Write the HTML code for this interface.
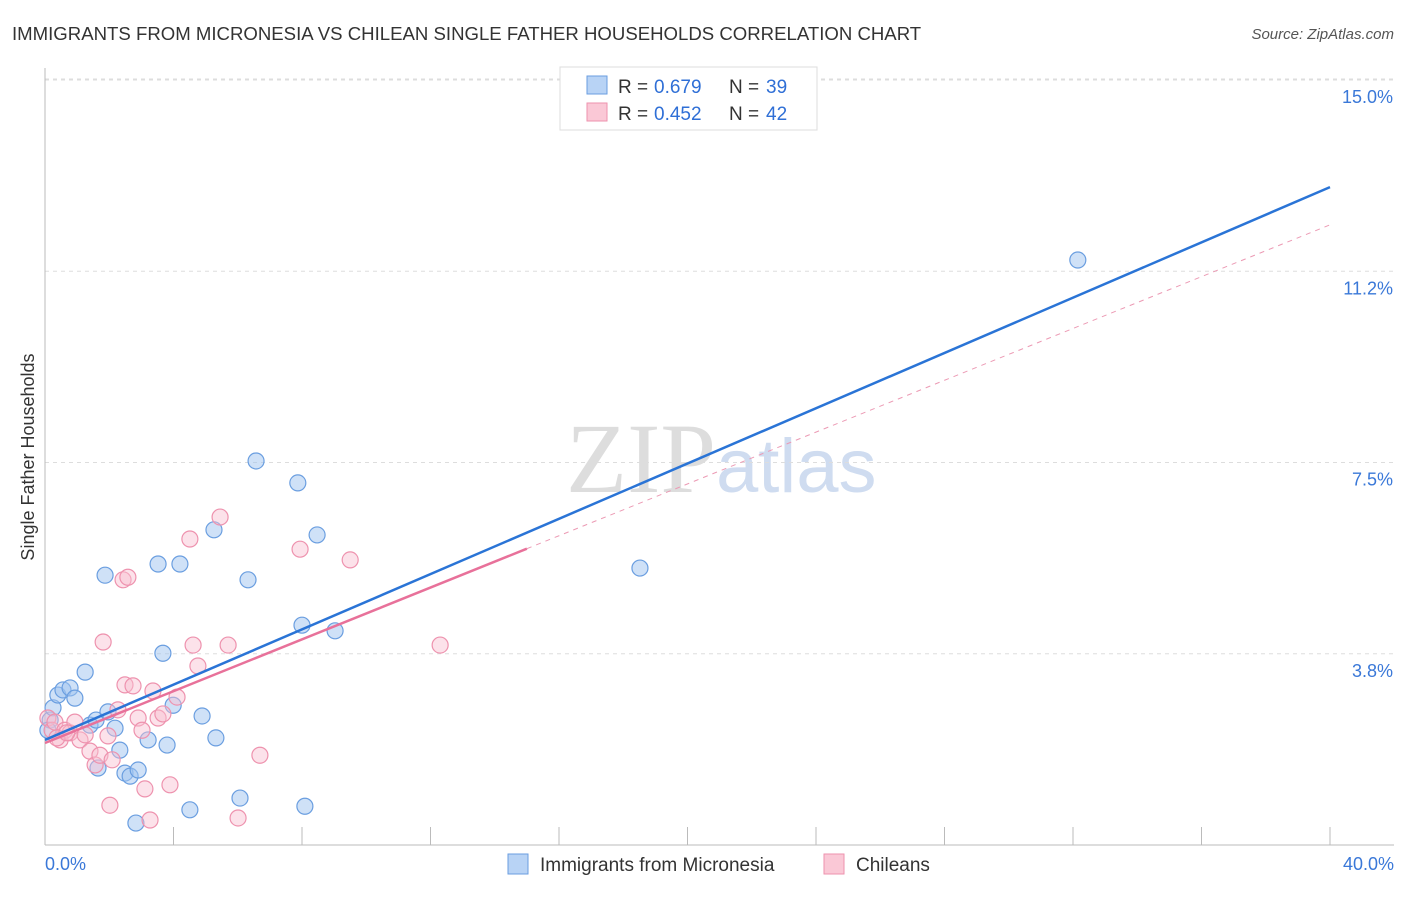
<!DOCTYPE html>
<html><head><meta charset="utf-8"><style>
body{margin:0;background:#fff;font-family:"Liberation Sans",sans-serif}
</style></head><body>
<svg id="c" width="1406" height="892" xmlns="http://www.w3.org/2000/svg">
<text x="12" y="40" font-size="18.6" fill="#333">IMMIGRANTS FROM MICRONESIA VS CHILEAN SINGLE FATHER HOUSEHOLDS CORRELATION CHART</text>
<text x="1394" y="39" font-size="15" fill="#555" font-style="italic" text-anchor="end">Source: ZipAtlas.com</text>
<text x="34" y="457" font-size="18" fill="#333" text-anchor="middle" transform="rotate(-90 34 457)">Single Father Households</text>
<text x="716" y="492" font-size="100" fill="#ddd" text-anchor="end" font-family="Liberation Serif">ZIP</text>
<text x="716" y="492" font-size="76" fill="#cfdcf0">atlas</text>
<g id="grid"></g><g id="pts"></g><g id="lines"></g>
<g>
<rect x="560" y="67" width="257" height="63" fill="#fff" stroke="#ddd"/>
<rect x="587" y="76" width="20" height="18" fill="#b8d3f5" stroke="#6a9ee0"/>
<rect x="587" y="103" width="20" height="18" fill="#fac8d6" stroke="#ee92ae"/>
<text x="618" y="93" font-size="19" fill="#333">R =</text>
<text x="654" y="93" font-size="19" fill="#2f6fd6">0.679</text>
<text x="729" y="93" font-size="19" fill="#333">N =</text>
<text x="766" y="93" font-size="19" fill="#2f6fd6">39</text>
<text x="618" y="120" font-size="19" fill="#333">R =</text>
<text x="654" y="120" font-size="19" fill="#2f6fd6">0.452</text>
<text x="729" y="120" font-size="19" fill="#333">N =</text>
<text x="766" y="120" font-size="19" fill="#2f6fd6">42</text>
</g>
<g>
<rect x="508" y="854" width="20" height="20" fill="#b8d3f5" stroke="#6a9ee0"/>
<text x="540" y="871" font-size="19" fill="#333">Immigrants from Micronesia</text>
<rect x="824" y="854" width="20" height="20" fill="#fac8d6" stroke="#ee92ae"/>
<text x="856" y="871" font-size="19" fill="#333">Chileans</text>
</g>
</svg>
<script>
const yTicks=[3.75,7.5,11.25,15];
const yTickLabels=["3.8%","7.5%","11.2%","15.0%"];
const xTicks=[0,4,8,12,16,20,24,28,32,36,40];
const blueX=[0.16,0.25,0.40,0.56,0.78,0.93,1.25,1.40,1.59,1.65,1.87,1.96,2.18,2.33,2.49,2.65,2.90,2.83,3.21,3.52,3.67,3.80,3.99,4.20,4.51,4.89,5.26,5.32,6.07,6.32,6.57,7.87,8.00,8.09,8.47,9.03,18.52,32.15,0.09];
const blueY=[2.45,2.69,2.94,3.04,3.08,2.88,3.39,2.35,2.45,1.51,5.29,2.61,2.29,1.86,1.41,1.35,1.47,0.43,2.06,5.51,3.76,1.96,2.74,5.51,0.69,2.53,6.18,2.10,0.92,5.20,7.53,7.10,4.31,0.76,6.08,4.20,5.43,11.47,2.25];
const pinkX=[0.09,0.22,0.31,0.47,0.62,0.78,0.93,1.09,1.25,1.40,1.56,1.71,1.81,1.96,2.09,2.27,2.43,2.49,2.58,2.74,2.90,3.02,3.11,3.27,3.36,3.52,3.67,3.89,4.11,4.51,4.61,4.76,2.02,5.45,5.70,6.01,6.69,7.94,9.50,12.30,0.37,0.68];
const pinkY=[2.49,2.25,2.41,2.06,2.25,2.20,2.41,2.06,2.16,1.84,1.57,1.76,3.98,2.14,1.67,2.65,5.20,3.14,5.25,3.12,2.49,2.25,1.10,0.49,3.02,2.49,2.57,1.18,2.90,6.00,3.92,3.51,0.78,6.43,3.92,0.53,1.76,5.80,5.59,3.92,2.10,2.20];
const blueLine=[0,2.06,40,12.9];
const pinkLine=[0,2.0,15.0,40,12.16];
const X=v=>45+v/40*1285, Y=v=>845-v*51.0;
const ns="http://www.w3.org/2000/svg";
function mk(t,a,p){const e=document.createElementNS(ns,t);for(const k in a)e.setAttribute(k,a[k]);p.appendChild(e);return e;}
const g=document.getElementById('grid');
yTicks.forEach((t,i)=>{
 const l=mk('line',{x1:45,x2:1394,y1:Y(t),y2:Y(t),stroke:'#ddd','stroke-dasharray':'4,4'},g);
 
 
 const tx=mk('text',{x:1393,y:Y(t)+23,'font-size':18,fill:'#3a78d8','text-anchor':'end'},g);tx.textContent=yTickLabels[i];
 
 
});
const topLine=mk('line',{x1:45,x2:1394,y1:79,y2:79,stroke:'#ddd','stroke-dasharray':'4,4'},g);


const ax=mk('line',{x1:45,x2:1394,y1:845,y2:845,stroke:'#bbb'},g);


const ay=mk('line',{x1:45,x2:45,y1:68,y2:845,stroke:'#bbb'},g);


xTicks.forEach(t=>{const l=mk('line',{x1:X(t),x2:X(t),y1:827,y2:845,stroke:'#bbb'},g);
 
 });
[["0.0%",45,'start'],["40.0%",1394,'end']].forEach(a=>{const t=mk('text',{x:a[1],y:870,'font-size':18,fill:'#3a78d8','text-anchor':a[2]},g);t.textContent=a[0];
 
 });
const P=document.getElementById('pts');
blueX.forEach((x,i)=>{const c=mk('circle',{cx:X(x),cy:Y(blueY[i]),r:8,fill:'rgba(160,196,240,0.5)',stroke:'#6a9ee0','stroke-width':1.2},P);
 
 });
pinkX.forEach((x,i)=>{const c=mk('circle',{cx:X(x),cy:Y(pinkY[i]),r:8,fill:'rgba(248,190,208,0.45)',stroke:'#ee92ae','stroke-width':1.2},P);
 
 });
const L=document.getElementById('lines');
const pk=(x)=>pinkLine[1]+(pinkLine[4]-pinkLine[1])*x/pinkLine[3];
const pd=mk('line',{x1:X(pinkLine[2]),y1:Y(pk(pinkLine[2])),x2:X(pinkLine[3]),y2:Y(pinkLine[4]),stroke:'#ec9ab4','stroke-width':1,'stroke-dasharray':'5,5'},L);


const ps=mk('line',{x1:X(0),y1:Y(pinkLine[1]),x2:X(pinkLine[2]),y2:Y(pk(pinkLine[2])),stroke:'#e8719a','stroke-width':2.5},L);


const bl=mk('line',{x1:X(blueLine[0]),y1:Y(blueLine[1]),x2:X(blueLine[2]),y2:Y(blueLine[3]),stroke:'#2a74d6','stroke-width':2.5},L);


</script>
</body></html>
